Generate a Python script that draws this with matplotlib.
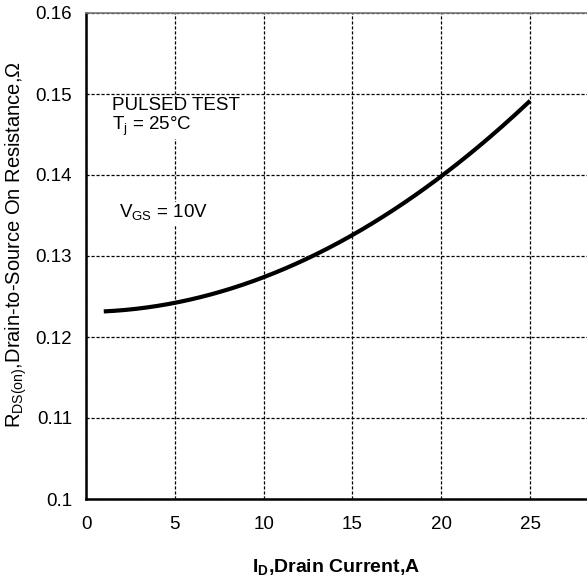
import numpy as np
import matplotlib.pyplot as plt

# curve
drain_current = [1, 3, 5, 7.5, 10, 12.5, 15, 17.5, 20, 22.5, 25]
rds_on = [0.1231, 0.1236, 0.1242, 0.1256, 0.1274, 0.1297, 0.1325, 0.1359, 0.1400, 0.1443, 0.1491]

xticks = [0, 5, 10, 15, 20, 25]
yticks = [0.1, 0.11, 0.12, 0.13, 0.14, 0.15, 0.16]
ytick_labels = ['0.1', '0.11', '0.12', '0.13', '0.14', '0.15', '0.16']

plt.rcParams['font.family'] = ['Liberation Sans', 'DejaVu Sans']

fig = plt.figure(figsize=(5.87, 5.78), dpi=100)
ax = fig.add_axes([86 / 587, 1 - 499 / 578, 1 - 86 / 587, (499 - 13) / 578])

# smooth the hand-read points a little
coef = np.polyfit(drain_current, rds_on, 3)
xs = np.linspace(drain_current[0], drain_current[-1], 200)
ax.plot(xs, np.polyval(coef, xs), color='black', lw=3, solid_capstyle='butt', zorder=3)

ax.set_xlim(0, 28.2)
ax.set_ylim(0.1, 0.16)
ax.set_xticks(xticks)
ax.set_yticks(yticks)
ax.set_yticklabels(ytick_labels)
ax.tick_params(length=0, labelsize=13.5, pad=12)
ax.tick_params(axis='y', pad=10)

ax.grid(True, color='black', linestyle=(0, (2.5, 1.5)), lw=0.9)
for s in ['left', 'bottom']:
    ax.spines[s].set_linewidth(1.8)
ax.spines['top'].set_color('#777777')
ax.spines['top'].set_linewidth(1.2)
ax.spines['right'].set_visible(False)

bbox = dict(facecolor='white', edgecolor='none', pad=1)
ax.text(1.45, 0.1496, 'PULSED TEST\nT$_\\mathregular{j}$ = 25\u00b0C', fontsize=13.5, va='top', ha='left',
        linespacing=1.0, bbox=bbox)
ax.text(1.85, 0.1353, 'V$_\\mathregular{GS}$ = 10V', fontsize=13.5, va='center', ha='left', bbox=bbox)

ax.set_xlabel('I$_\\mathregular{D}$,Drain Current,A', fontsize=14, fontweight='bold', labelpad=18)
fig.text(16 / 587, 1 - 245 / 578, 'R$_\\mathregular{DS(on)}$,Drain-to-Source On Resistance,\u03a9',
         fontsize=14.5, rotation=90, ha='center', va='center')

fig.savefig('out.png', dpi=100)
